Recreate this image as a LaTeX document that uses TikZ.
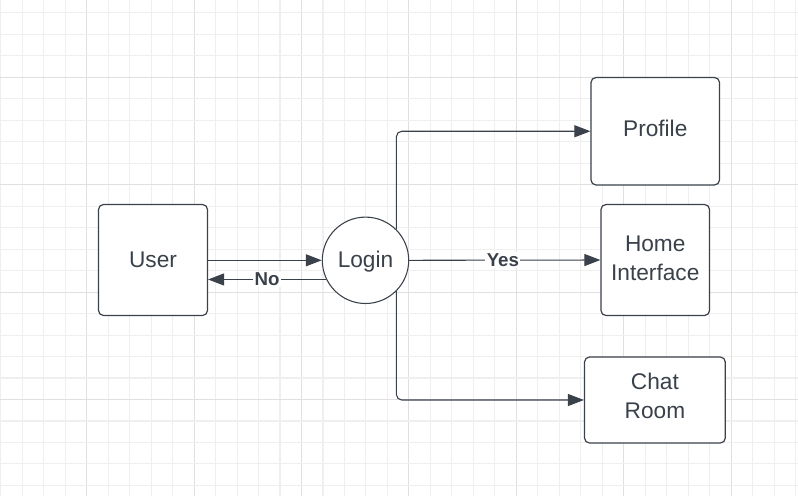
\documentclass[tikz,border=0pt]{standalone}
\usepackage{fontspec}
\setmainfont{Liberation Sans}
\usetikzlibrary{arrows.meta}
\definecolor{ink}{HTML}{3A414A}
\definecolor{gridminor}{HTML}{EFEFEF}
\definecolor{gridmajor}{HTML}{E0E0E0}
\tikzset{
  box/.style={draw=ink, line width=0.9pt, rounded corners=3.75pt, fill=white, text=ink,
    font=\fontsize{17}{21.75}\selectfont, align=center, inner sep=0pt},
  disc/.style={draw=ink, line width=0.8pt, circle, fill=white, text=ink,
    font=\fontsize{17}{21.75}\selectfont, inner sep=0pt, minimum size=64.8pt},
  conn/.style={draw=ink, line width=0.8pt, -{Triangle[length=12pt,width=9pt]}},
  lbl/.style={fill=white, text=ink, font=\bfseries\fontsize{14}{16}\selectfont, inner sep=1pt}
}
\begin{document}
\begin{tikzpicture}[x=0.75pt,y=-0.75pt]
\useasboundingbox (0,0) rectangle (798,496);
\fill[white] (0,0) rectangle (798,496);
% grid
\foreach \k in {-4,...,33}{
  \pgfmathsetmacro{\gx}{86.7+21.48*\k}
  \pgfmathtruncatemacro{\m}{mod(\k+100,5)}
  \ifnum\m=0
    \draw[gridmajor, line width=0.8pt] (\gx,0) -- (\gx,496);
  \else
    \draw[gridminor, line width=0.8pt] (\gx,0) -- (\gx,496);
  \fi
}
\foreach \k in {-3,...,19}{
  \pgfmathsetmacro{\gy}{77.3+21.48*\k}
  \pgfmathtruncatemacro{\m}{mod(\k+100,5)}
  \ifnum\m=0
    \draw[gridmajor, line width=0.8pt] (0,\gy) -- (798,\gy);
  \else
    \draw[gridminor, line width=0.8pt] (0,\gy) -- (798,\gy);
  \fi
}
% nodes
\node[box, minimum width=81.75pt, minimum height=83.25pt] (user) at (153,260) {User};
\node[disc, text depth=1.5pt] (login) at (365.5,260.3) {Login};
\node[box, minimum width=96.4pt, minimum height=80.6pt, text depth=4.5pt] (profile) at (655.25,131.25) {Profile};
\node[box, minimum width=81.4pt, minimum height=83.25pt, text depth=3pt] (home) at (655.25,260) {Home\\Interface};
\node[box, minimum width=105.6pt, minimum height=64.5pt, text depth=6pt] (chat) at (654.9,400) {Chat\\Room};
% connectors
\draw[conn] (user.east |- login.west) -- (login.west);
\draw[conn] (login.206) -- (login.206 -| user.east) node[lbl, pos=0.5] {No};
\draw[conn] (login.east) -- (home.west) node[lbl, pos=0.49] {Yes};
\draw[conn, rounded corners=4pt] (login.45) |- (profile.west);
\draw[conn, rounded corners=4pt] (login.-45) |- (chat.west);
\end{tikzpicture}
\end{document}
